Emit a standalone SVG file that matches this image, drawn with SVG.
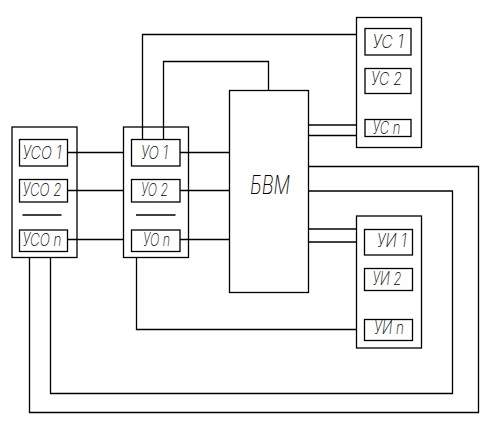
<svg xmlns="http://www.w3.org/2000/svg" width="502" height="429" viewBox="0 0 502 429">
<style>
rect{fill:none;stroke:#000;stroke-width:1.3}
line,polyline{fill:none;stroke:#000;stroke-width:1.3}
text{font-family:Inter,"Roboto","DejaVu Sans",sans-serif;font-weight:200;font-style:italic;font-size:18px;fill:#000}
.big{font-size:25px}
</style>
<rect width="502" height="429" style="fill:#fff;stroke:none"/>
<g id="connectors">
<line x1="67" y1="152.5" x2="123.5" y2="152.5"/>
<line x1="67" y1="190.5" x2="123.5" y2="190.5"/>
<line x1="67" y1="239.5" x2="123.5" y2="239.5"/>
<line x1="180" y1="152.5" x2="229.5" y2="152.5"/>
<line x1="180" y1="190.5" x2="229.5" y2="190.5"/>
<line x1="180" y1="239.5" x2="229.5" y2="239.5"/>
<polyline points="142.5,139 142.5,34.5 356.5,34.5"/>
<polyline points="163.5,139 163.5,61.5 268.5,61.5 268.5,90.5"/>
<line x1="308.5" y1="125" x2="356.5" y2="125"/>
<line x1="308.5" y1="135.5" x2="356.5" y2="135.5"/>
<line x1="308.5" y1="229" x2="356.5" y2="229"/>
<line x1="308.5" y1="242" x2="356.5" y2="242"/>
<polyline points="308.5,166.5 478.5,166.5 478.5,412.5 29.5,412.5 29.5,257.5"/>
<polyline points="308.5,191 452.5,191 452.5,393.5 50.5,393.5 50.5,257.5"/>
<polyline points="136.5,257.5 136.5,329.5 356.5,329.5"/>
</g>
<g id="uso">
<rect x="12" y="127" width="65" height="130.5"/>
<rect x="19.5" y="139.5" width="48" height="26.5"/>
<text x="22.5" y="158.5" textLength="39" lengthAdjust="spacingAndGlyphs">УСО 1</text>
<rect x="19.5" y="179.5" width="48" height="22.5"/>
<text x="22.5" y="196" textLength="39" lengthAdjust="spacingAndGlyphs">УСО 2</text>
<line x1="22.5" y1="215" x2="61.5" y2="215"/>
<rect x="19.5" y="230" width="48" height="21.5"/>
<text x="22.5" y="246" textLength="39" lengthAdjust="spacingAndGlyphs">УСО n</text>
</g>
<g id="uo">
<rect x="123.5" y="127" width="65" height="130.5"/>
<rect x="131.5" y="139.5" width="48.5" height="26.5"/>
<text x="141" y="158.5" textLength="27" lengthAdjust="spacingAndGlyphs">УО 1</text>
<rect x="131.5" y="179.5" width="48.5" height="22.5"/>
<text x="141" y="196" textLength="27" lengthAdjust="spacingAndGlyphs">УО 2</text>
<line x1="136" y1="215" x2="175.5" y2="215"/>
<rect x="131.5" y="230" width="48.5" height="21.5"/>
<text x="143" y="246" textLength="27" lengthAdjust="spacingAndGlyphs">УО n</text>
</g>
<g id="bvm">
<rect x="229.5" y="90.5" width="79" height="202"/>
<text class="big" x="250" y="193.5" textLength="40" lengthAdjust="spacingAndGlyphs">БВМ</text>
</g>
<g id="us">
<rect x="356.5" y="17.5" width="65" height="130"/>
<rect x="365" y="28.5" width="46" height="26.5"/>
<text x="372.5" y="47.5" textLength="31" lengthAdjust="spacingAndGlyphs">УС 1</text>
<rect x="365" y="68.5" width="46" height="25"/>
<text x="371" y="85" textLength="31" lengthAdjust="spacingAndGlyphs">УС 2</text>
<rect x="365" y="119.5" width="46" height="17"/>
<text x="372.5" y="134" textLength="28" lengthAdjust="spacingAndGlyphs">УС n</text>
</g>
<g id="ui">
<rect x="356.5" y="216" width="65" height="132"/>
<rect x="364.5" y="229.5" width="48" height="25.5"/>
<text x="377" y="246.5" textLength="29.5" lengthAdjust="spacingAndGlyphs">УИ 1</text>
<rect x="364.5" y="268.5" width="48" height="22"/>
<text x="372.5" y="285" textLength="29" lengthAdjust="spacingAndGlyphs">УИ 2</text>
<rect x="364.5" y="319.5" width="48" height="21"/>
<text x="374" y="333.5" textLength="30" lengthAdjust="spacingAndGlyphs">УИ n</text>
</g>
</svg>
